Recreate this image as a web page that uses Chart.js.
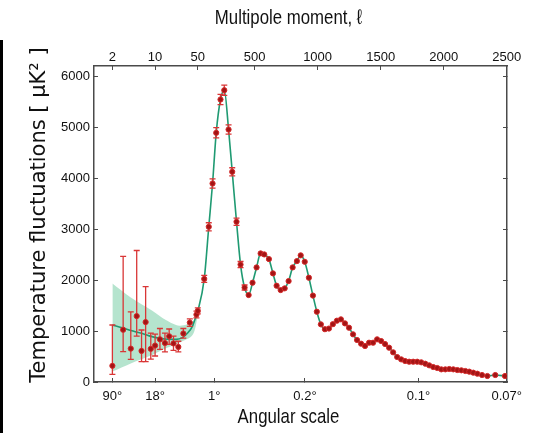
<!DOCTYPE html>
<html>
<head>
<meta charset="utf-8">
<script src="https://cdn.jsdelivr.net/npm/chart.js@4.4.1/dist/chart.umd.min.js"></script>
<style>
  html, body { margin: 0; padding: 0; background: #fff; }
  #wrap { position: relative; width: 535px; height: 433px; }
  #edge { position: absolute; left: 0; top: 40px; width: 3px; height: 393px; background: #000; }
</style>
</head>
<body>
<div id="wrap">
  <canvas id="cmb" width="535" height="433"></canvas>
  <div id="edge"></div>
</div>
<script>
// low multipoles (big error bars)
const lowEll = [2, 3, 4, 5, 6, 7, 8.5, 10, 12, 14.5, 17, 20, 24, 29, 37, 47.5];
const lowD = [318, 1025, 655, 1293, 610, 1175, 650, 715, 838, 765, 897, 756, 688, 952, 1165, 1322];
const lowTop = [1118, 2465, 1377, 2580, 1020, 1870, 960, 940, 1050, 960, 1040, 900, 800, 1050, 1240, 1390];
const lowBottom = [150, 595, 444, 900, 400, 400, 450, 510, 640, 590, 740, 620, 590, 860, 1090, 1260];

// binned high multipoles
const highEll = [50, 101, 137, 167, 196, 230, 260, 294, 323, 357, 389, 421, 453, 484, 516,
  548, 577, 614, 646, 675, 707, 739, 770, 802, 836, 866, 898, 931, 963, 994,
  1026, 1058, 1090, 1121, 1153, 1185, 1217, 1249, 1281, 1313, 1345, 1376, 1408, 1440, 1472,
  1504, 1535, 1567, 1599, 1631, 1663, 1694, 1726, 1758, 1790, 1822, 1854, 1885, 1917, 1949,
  1981, 2013, 2044, 2076, 2108, 2140, 2172, 2203, 2235, 2267, 2304, 2346, 2409, 2486];
const highD = [1395, 2023, 3045, 3895, 4889, 5543, 5725, 4954, 4124, 3144, 2304, 1853, 1706, 1948, 2248,
  2523, 2503, 2412, 2131, 1889, 1804, 1837, 1980, 2248, 2372, 2485, 2359, 2046, 1696, 1379,
  1131, 1036, 1049, 1134, 1203, 1229, 1150, 1065, 935, 824, 752, 706, 771, 771, 837,
  804, 745, 673, 582, 490, 444, 412, 398, 398, 398, 386, 359, 327, 294, 275,
  248, 248, 255, 248, 235, 229, 216, 203, 183, 163, 137, 118, 137, 118];
const highErr = [60, 70, 80, 90, 100, 100, 100, 90, 80, 70, 60, 50];

// best fit model below ell=50 (above that it runs through the bins)
const modelLowEll = [2, 3, 4, 6, 8, 12, 16, 22, 28, 34, 41, 47];
const modelLowD = [1118, 1060, 1010, 955, 905, 856, 840, 837, 870, 960, 1098, 1300];

// cosmic variance band
const bandEll = [2, 4, 9, 15, 25, 41, 50];
const bandTop = [1935, 1660, 1400, 1215, 1105, 1180, 1370];
const bandBottom = [205, 365, 530, 660, 770, 920, 1300];

const yTicks = [0, 1000, 2000, 3000, 4000, 5000, 6000];
const topTicks = [2, 10, 50, 500, 1000, 1500, 2000, 2500];
const bottomTicks = [2, 10, 180, 900, 1800, 2500];
const bottomLabels = ['90°', '18°', '1°', '0.2°', '0.1°', '0.07°'];

const sans = '"Liberation Sans", Arial, sans-serif';
const frame = '#4a4a4a';

// x axis: log up to ell=50, linear after that
const LOG_PX = 61, LIN_PX = 0.1259;
const SPLIT = LOG_PX * Math.log10(25);
function ellToU(l) {
  if (l <= 50) return LOG_PX * Math.log10(l / 2);
  return SPLIT + (l - 50) * LIN_PX;
}
function uToEll(u) {
  if (u <= SPLIT) return 2 * Math.pow(10, u / LOG_PX);
  return 50 + (u - SPLIT) / LIN_PX;
}

class HybridScale extends Chart.LinearScale {
  static id = 'hybrid';
  static defaults = Chart.LinearScale.defaults;
  buildTicks() { return []; }
  getPixelForValue(v) {
    if (v === null || v === undefined || isNaN(v)) return NaN;
    const a = ellToU(this.min), b = ellToU(this.max);
    return this.getPixelForDecimal((ellToU(v) - a) / (b - a));
  }
  getValueForPixel(p) {
    const a = ellToU(this.min), b = ellToU(this.max);
    return uToEll(a + this.getDecimalForPixel(p) * (b - a));
  }
}
Chart.register(HybridScale);

const points = lowEll.map((l, i) => ({x: l, y: lowD[i], lo: lowBottom[i], hi: lowTop[i]}))
  .concat(highEll.map((l, i) => highErr[i]
    ? {x: l, y: highD[i], lo: highD[i] - highErr[i], hi: highD[i] + highErr[i]}
    : {x: l, y: highD[i]}));
const model = modelLowEll.map((l, i) => ({x: l, y: modelLowD[i]}))
  .concat(highEll.map((l, i) => ({x: l, y: highD[i]})));

const errorBars = {
  id: 'errorBars',
  beforeDatasetDraw(chart, args) {
    if (args.index !== 0) return;
    const {ctx, scales: {x, y}} = chart;
    ctx.save();
    ctx.strokeStyle = '#d93636';
    ctx.lineWidth = 1.3;
    chart.data.datasets[0].data.forEach(p => {
      if (p.lo === undefined) return;
      const px = x.getPixelForValue(p.x);
      const y1 = y.getPixelForValue(p.hi), y2 = y.getPixelForValue(p.lo);
      ctx.beginPath();
      ctx.moveTo(px, y1); ctx.lineTo(px, y2);
      ctx.moveTo(px - 3, y1); ctx.lineTo(px + 3, y1);
      ctx.moveTo(px - 3, y2); ctx.lineTo(px + 3, y2);
      ctx.stroke();
    });
    ctx.restore();
  }
};

// condensed-looking titles: squeeze the text horizontally
function squeezed(ctx, text, x, y, sx) {
  ctx.save();
  ctx.translate(x, y);
  ctx.scale(sx, 1);
  ctx.fillText(text, 0, 0);
  ctx.restore();
}

const axisTitles = {
  id: 'axisTitles',
  afterDraw(chart) {
    const {ctx, chartArea} = chart;
    const cx = (chartArea.left + chartArea.right) / 2 - 12;
    ctx.save();
    ctx.fillStyle = '#111';
    ctx.textAlign = 'center';
    ctx.textBaseline = 'middle';
    ctx.font = '21px ' + sans;
    squeezed(ctx, 'Multipole moment, ℓ', cx, 18, 0.8);
    squeezed(ctx, 'Angular scale', cx, 417, 0.8);
    ctx.translate(40, (chartArea.top + chartArea.bottom) / 2 - 9);
    ctx.rotate(-Math.PI / 2);
    ctx.font = '21px "DejaVu Sans", sans-serif';
    ctx.fillText('Temperature fluctuations [ μK² ]', 0, 0);
    ctx.restore();
  }
};

function grid() {
  return {drawOnChartArea: false, drawTicks: true, tickLength: -4, tickColor: frame, tickWidth: 1};
}
function tickFont() {
  return {family: sans, size: 13};
}

new Chart(document.getElementById('cmb'), {
  type: 'line',
  data: {
    datasets: [
      {
        data: points, showLine: false, order: 0,
        pointRadius: 2.6, pointBackgroundColor: '#a31515', pointBorderColor: '#d42a2a', pointBorderWidth: 1
      },
      {
        data: model, order: 1, borderColor: '#1f9a72', borderWidth: 1.6,
        pointRadius: 0, cubicInterpolationMode: 'monotone'
      },
      {
        data: bandEll.map((l, i) => ({x: l, y: bandTop[i]})), order: 2,
        borderWidth: 0, pointRadius: 0, tension: 0.3,
        fill: '+1', backgroundColor: 'rgba(120, 205, 165, 0.55)'
      },
      {
        data: bandEll.map((l, i) => ({x: l, y: bandBottom[i]})), order: 3,
        borderWidth: 0, pointRadius: 0, tension: 0.3
      }
    ]
  },
  options: {
    responsive: false,
    animation: false,
    layout: {padding: {left: 0, right: 28, top: 0, bottom: 0}},
    plugins: {legend: {display: false}, tooltip: {enabled: false}},
    scales: {
      x: {
        type: 'hybrid', position: 'bottom', min: 1, max: 2502,
        grid: grid(), border: {color: frame, width: 1.5},
        ticks: {autoSkip: false, maxRotation: 0, padding: 11, color: '#111', font: tickFont(),
          callback: (v, i) => bottomLabels[i]},
        afterBuildTicks: s => { s.ticks = bottomTicks.map(v => ({value: v})); },
        afterFit: s => { s.height = 51; }
      },
      x2: {
        type: 'hybrid', position: 'top', min: 1, max: 2502,
        grid: grid(), border: {color: frame, width: 1.5},
        ticks: {autoSkip: false, maxRotation: 0, padding: 5, color: '#111', font: tickFont(),
          callback: (v, i) => String(topTicks[i])},
        afterBuildTicks: s => { s.ticks = topTicks.map(v => ({value: v})); },
        afterFit: s => { s.height = 66; }
      },
      y: {
        type: 'linear', position: 'left', min: 0, max: 6200,
        grid: grid(), border: {color: frame, width: 1.5},
        ticks: {padding: 8, color: '#111', font: tickFont(), callback: v => String(v)},
        afterBuildTicks: s => { s.ticks = yTicks.map(v => ({value: v})); },
        afterFit: s => { s.width = 94; }
      },
      y2: {
        type: 'linear', position: 'right', min: 0, max: 6200,
        grid: grid(), border: {color: frame, width: 1.5},
        ticks: {display: false},
        afterBuildTicks: s => { s.ticks = yTicks.map(v => ({value: v})); },
        afterFit: s => { s.width = 0; }
      }
    }
  },
  plugins: [errorBars, axisTitles]
});
</script>
</body>
</html>
